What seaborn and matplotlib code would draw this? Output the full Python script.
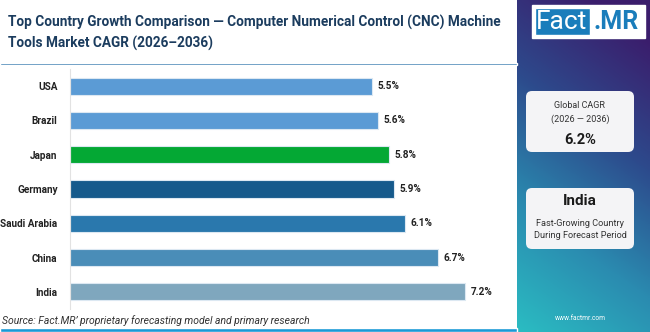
import numpy as np
import pandas as pd
import matplotlib
matplotlib.use('Agg')
import matplotlib.pyplot as plt
import seaborn as sns
from matplotlib.patches import FancyBboxPatch, Rectangle
from matplotlib.colors import LinearSegmentedColormap

# ── Data ──────────────────────────────────────────────────────
countries = ['USA', 'Brazil', 'Japan', 'Germany', 'Saudi Arabia', 'China', 'India']
cagr = [5.5, 5.6, 5.8, 5.9, 6.1, 6.7, 7.2]
bar_colors = ['#5b9bd5', '#5b9bd5', '#04a834', '#165a8c', '#2a78ad', '#4a8db8', '#7fa7be']
labels = [f'{v}%' for v in cagr]

title = ('Top Country Growth Comparison \u2014 Computer Numerical Control (CNC) Machine\n'
         'Tools Market CAGR (2026\u20132036)')
source = 'Source: Fact.MR\u2019 proprietary forecasting model and primary research'
global_cagr = '6.2%'
top_country = 'India'

df = pd.DataFrame({'country': countries, 'cagr': cagr})

sns.set_style('white')
plt.rcParams['font.family'] = ['Roboto', 'DejaVu Sans']

W, H = 650, 332
fig = plt.figure(figsize=(W / 100, H / 100), dpi=100)

# ── Background layer in pixel coords ──────────────────────────
bg = fig.add_axes([0, 0, 1, 1], zorder=0)
bg.set_xlim(0, W)
bg.set_ylim(H, 0)
bg.axis('off')

# gradient side panel
cmap = LinearSegmentedColormap.from_list('panel', ['#3b1d6c', '#2d4a8c', '#2a8bb0', '#2bbcc2'])
yy, xx = np.mgrid[0:1:200j, 0:1:60j]
grad = np.clip(0.85 * yy + 0.25 * (1 - xx) - 0.1, 0, 1)
bg.imshow(grad, cmap=cmap, extent=(517, W, H, 0), aspect='auto', zorder=1)

# logo
bg.add_patch(Rectangle((532, 5), 113, 33, facecolor='white', zorder=2))
bg.add_patch(Rectangle((535, 8), 55, 27, facecolor='#1a7dbb', zorder=3))
bg.text(562, 22, 'Fact', color='white', fontsize=19, ha='center', va='center', zorder=4)
bg.text(616, 22, '.MR', color='#1a7dbb', fontsize=18, fontweight='bold',
        ha='center', va='center', zorder=4)

# cards
for y0, y1 in [(91, 152), (188, 249)]:
    bg.add_patch(FancyBboxPatch((526, y0), 108, y1 - y0,
                                boxstyle='round,pad=0,rounding_size=6',
                                facecolor='#f4f4f6', edgecolor='none', zorder=2))
bg.text(580, 106, 'Global CAGR', fontsize=6.5, color='#333333', ha='center', va='center', zorder=3)
bg.text(580, 119, '(2026 \u2014 2036)', fontsize=6.5, color='#333333', ha='center', va='center', zorder=3)
bg.text(580, 140, global_cagr, fontsize=10.5, fontweight='bold', color='#1a1a1a',
        ha='center', va='center', zorder=3)
bg.text(580, 201, top_country, fontsize=11, fontweight='bold', color='#1a1a1a',
        ha='center', va='center', zorder=3)
bg.text(580, 223, 'Fast-Growing Country', fontsize=6.6, color='#333333', ha='center', va='center', zorder=3)
bg.text(580, 236, 'During Forecast Period', fontsize=6.6, color='#333333', ha='center', va='center', zorder=3)
bg.text(580, 319, 'www.factmr.com', fontsize=4.8, color='white', ha='center', va='center', zorder=3)

# header, rule lines, source
bg.text(8, 33, title, fontsize=9.85, fontweight='bold', color='#1b3c5e',
        ha='left', va='center', linespacing=1.45, zorder=3)
bg.add_patch(Rectangle((0, 62.5), 517, 2.5, facecolor='#1f6aa5', zorder=3))
bg.add_patch(Rectangle((0, 328), 517, 4, facecolor='#1a9ad6', zorder=3))
bg.text(2, 321, source, fontsize=7.5, style='italic', color='#333333',
        ha='left', va='center', zorder=3)

# ── Bar chart ─────────────────────────────────────────────────
ax = fig.add_axes([70 / W, 1 - 309 / H, 435 / W, 240 / H], zorder=2)
ax.patch.set_alpha(0)
sns.barplot(data=df, x='cagr', y='country', hue='country', palette=bar_colors,
            saturation=1, legend=False, width=0.5, edgecolor='#dce8f2',
            linewidth=0.8, ax=ax)
ax.set_xlim(0, 7.92)
ax.set_xlabel('')
ax.set_ylabel('')
ax.set_xticks([])
for side in ['top', 'right', 'bottom']:
    ax.spines[side].set_visible(False)
ax.spines['left'].set_color('#e2e2e2')
ax.spines['left'].set_linewidth(0.8)
ax.tick_params(axis='y', length=0, pad=9)
for lab in ax.get_yticklabels():
    lab.set_fontweight('bold')
    lab.set_fontsize(7.2)
    lab.set_color('#222222')

for i, (v, t) in enumerate(zip(cagr, labels)):
    ax.text(v + 0.1, i, t, fontsize=7.2, fontweight='bold', color='#222222',
            ha='left', va='center')

fig.savefig('out.png', dpi=100)
